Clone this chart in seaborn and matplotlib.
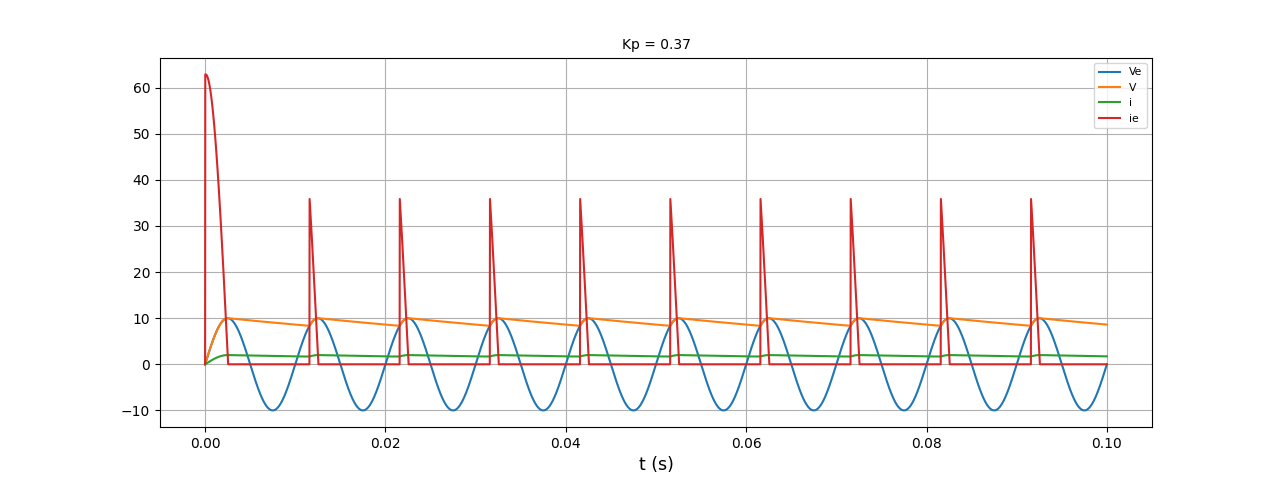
import numpy as np
import pandas as pd
import matplotlib
matplotlib.use("Agg")
import matplotlib.pyplot as plt
import seaborn as sns

# Parameters of the simulated peak rectifier
KP = 0.37
AMPLITUDE = 10.0      # V, peak of source Ve
FREQ = 100.0          # Hz
R_LOAD = 5.0          # ohm
C_CAP = 0.01          # F
T_END = 0.1           # s
DT = 1e-5             # s
series_names = ["Ve", "V", "i", "ie"]
x_ticks = [0.0, 0.02, 0.04, 0.06, 0.08, 0.10]
x_tick_labels = ["0.00", "0.02", "0.04", "0.06", "0.08", "0.10"]

t = np.arange(0, T_END + DT / 2, DT)
Ve = AMPLITUDE * np.sin(2 * np.pi * FREQ * t)
V = np.zeros_like(t)
decay = np.exp(-DT / (R_LOAD * C_CAP))
for k in range(1, len(t)):
    V[k] = max(Ve[k], V[k - 1] * decay)
i_load = V / R_LOAD
ie = np.zeros_like(t)
ie[1:] = C_CAP * np.diff(V) / DT + i_load[1:]
ie[np.abs(ie) < 1e-6] = 0.0
ie[0] = 0.0

df = pd.DataFrame({"t": t, "Ve": Ve, "V": V, "i": i_load, "ie": ie})
long = df.melt(id_vars="t", value_vars=series_names, var_name="series", value_name="value")

plt.rcParams['font.family'] = ['DejaVu Sans']
fig, ax = plt.subplots(figsize=(12.8, 4.8), dpi=100)
palette = dict(zip(series_names, sns.color_palette("tab10", 4)))
sns.lineplot(data=long, x="t", y="value", hue="series", hue_order=series_names,
             palette=palette, ax=ax, linewidth=1.5, estimator=None, sort=False)
ax.grid(True, color="#b0b0b0", linewidth=0.8)
ax.set_title(f"Kp = {KP}", fontsize=10)
ax.set_xlabel("t (s)", fontsize=12.5)
ax.set_ylabel("")
ax.set_xticks(x_ticks)
ax.set_xticklabels(x_tick_labels)
ax.tick_params(axis="both", labelsize=10)
leg = ax.legend(loc="upper right", fontsize=7.8)
leg.set_title(None)
fig.savefig("out.png", dpi=100)
